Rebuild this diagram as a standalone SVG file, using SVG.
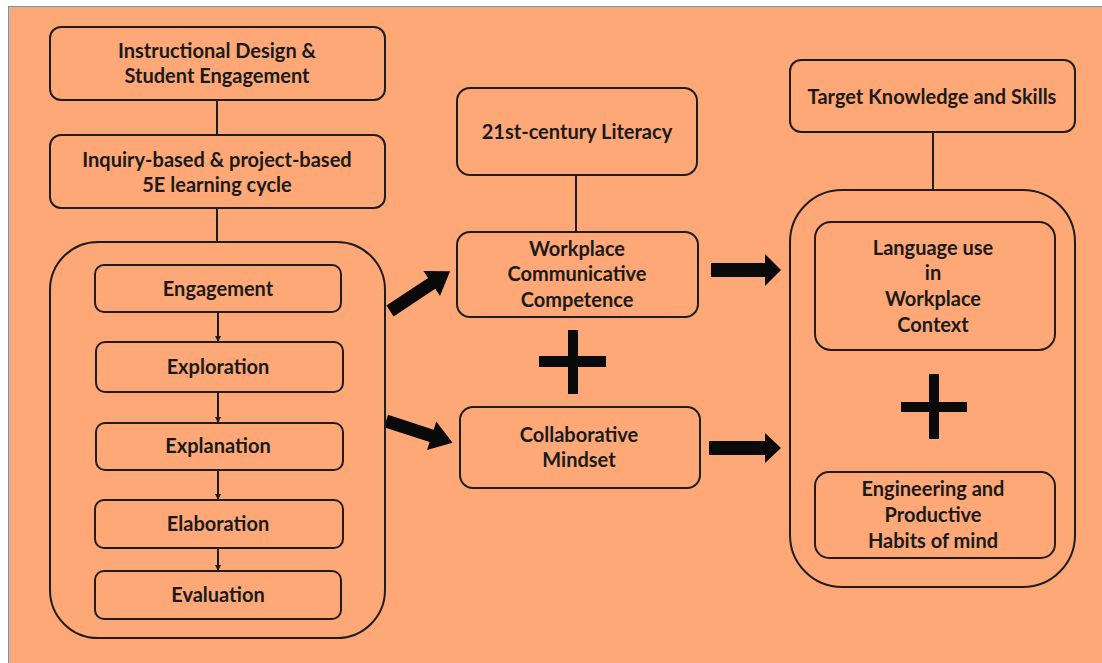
<svg xmlns="http://www.w3.org/2000/svg" width="1102" height="663" viewBox="0 0 1102 663">
<defs>
<style>
.box{fill:none;stroke:#1e1e1e;stroke-width:2}
.ln{stroke:#1e1e1e;stroke-width:2;fill:none}
.t{font-family:Lato,"Liberation Sans",sans-serif;font-weight:bold;font-size:20px;fill:#1a1a1a;text-anchor:middle}
.blk{fill:#0a0a0a}
</style>
<marker id="sm" viewBox="0 0 6 6" refX="6" refY="3" markerWidth="6" markerHeight="6" markerUnits="userSpaceOnUse" orient="auto">
<path d="M0,0 L6,3 L0,6 z" fill="#1e1e1e"/>
</marker>
</defs>
<rect x="0" y="0" width="1102" height="663" fill="#ffffff"/>
<rect x="8" y="6" width="1094" height="657" fill="#5b9bd5"/>
<rect x="9" y="7" width="1093" height="656" fill="#fea878"/>

<g id="connectors">
<line class="ln" x1="217" y1="100" x2="217" y2="135"/>
<line class="ln" x1="217" y1="208" x2="217" y2="242"/>
<line class="ln" x1="218" y1="312" x2="218" y2="342" marker-end="url(#sm)"/>
<line class="ln" x1="218" y1="392" x2="218" y2="423" marker-end="url(#sm)"/>
<line class="ln" x1="218" y1="470" x2="218" y2="500" marker-end="url(#sm)"/>
<line class="ln" x1="218" y1="548" x2="218" y2="571" marker-end="url(#sm)"/>
<line class="ln" x1="576" y1="175" x2="576" y2="232"/>
<line class="ln" x1="933" y1="132" x2="933" y2="190"/>
<polygon class="blk" transform="translate(390,311) rotate(-33.5)" points="0,-6.5 50,-6.5 50,-15 72,0 50,15 50,6.5 0,6.5"/>
<polygon class="blk" transform="translate(386,421) rotate(18)" points="0,-6.5 48,-6.5 48,-15 70,0 48,15 48,6.5 0,6.5"/>
<polygon class="blk" points="711,263 765,263 765,254 781,270 765,286 765,277 711,277"/>
<polygon class="blk" points="709,441 765,441 765,433 781,448 765,463 765,455 709,455"/>
</g>

<g id="plus1"><rect class="blk" x="568" y="330" width="10" height="64"/><rect class="blk" x="539" y="356" width="67" height="11"/></g>
<g id="plus2"><rect class="blk" x="929" y="374" width="10" height="65"/><rect class="blk" x="901" y="402" width="66" height="10"/></g>

<g id="instructional"><rect class="box" x="50" y="27" width="335" height="73" rx="11"/>
<text class="t" x="217" y="58">Instructional Design &amp;</text><text class="t" x="217" y="83">Student Engagement</text></g>
<g id="inquiry"><rect class="box" x="50" y="135" width="335" height="73" rx="11"/>
<text class="t" x="217" y="167">Inquiry-based &amp; project-based</text><text class="t" x="217" y="192">5E learning cycle</text></g>
<g id="cycle"><rect class="box" x="50" y="242" width="335" height="396" rx="48"/></g>
<g id="engagement"><rect class="box" x="95" y="265" width="246" height="47" rx="9"/><text class="t" x="218" y="296">Engagement</text></g>
<g id="exploration"><rect class="box" x="96" y="342" width="247" height="50" rx="9"/><text class="t" x="218" y="374">Exploration</text></g>
<g id="explanation"><rect class="box" x="96" y="423" width="247" height="47" rx="9"/><text class="t" x="218" y="453">Explanation</text></g>
<g id="elaboration"><rect class="box" x="95" y="500" width="248" height="48" rx="9"/><text class="t" x="218" y="531">Elaboration</text></g>
<g id="evaluation"><rect class="box" x="95" y="571" width="246" height="48" rx="9"/><text class="t" x="218" y="602">Evaluation</text></g>

<g id="literacy"><rect class="box" x="457" y="88" width="240" height="87" rx="13"/><text class="t" x="577" y="139">21st-century Literacy</text></g>
<g id="workplace"><rect class="box" x="457" y="232" width="241" height="85" rx="13"/>
<text class="t" x="577" y="256">Workplace</text><text class="t" x="577" y="281">Communicative</text><text class="t" x="577" y="307">Competence</text></g>
<g id="collaborative"><rect class="box" x="460" y="407" width="240" height="81" rx="13"/>
<text class="t" x="579" y="442">Collaborative</text><text class="t" x="579" y="467">Mindset</text></g>

<g id="target"><rect class="box" x="790" y="60" width="285" height="72" rx="11"/><text class="t" x="932" y="104">Target Knowledge and Skills</text></g>
<g id="targetgroup"><rect class="box" x="790" y="190" width="285" height="397" rx="52"/></g>
<g id="language"><rect class="box" x="815" y="222" width="240" height="128" rx="16"/>
<text class="t" x="933" y="255">Language use</text><text class="t" x="933" y="280">in</text><text class="t" x="933" y="306">Workplace</text><text class="t" x="933" y="332">Context</text></g>
<g id="engineering"><rect class="box" x="815" y="472" width="240" height="86" rx="14"/>
<text class="t" x="933" y="496">Engineering and</text><text class="t" x="933" y="522">Productive</text><text class="t" x="933" y="548">Habits of mind</text></g>
</svg>
